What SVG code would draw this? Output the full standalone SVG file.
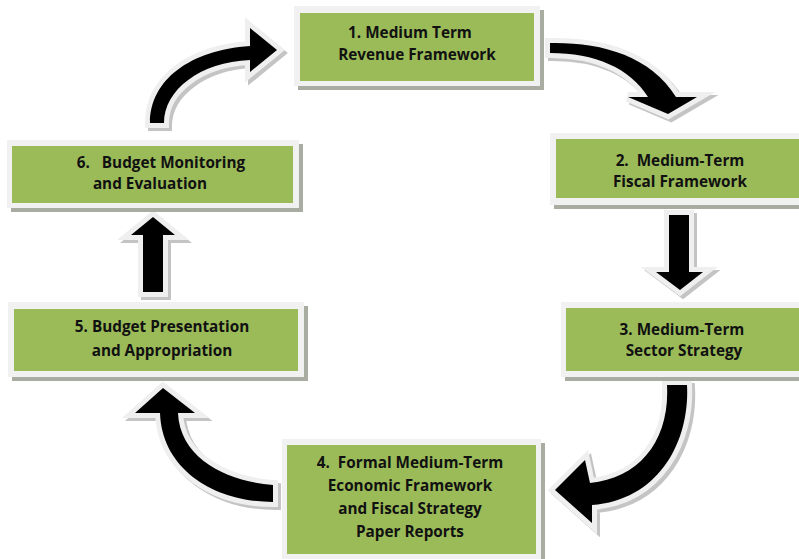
<svg xmlns="http://www.w3.org/2000/svg" xmlns:xlink="http://www.w3.org/1999/xlink" width="799" height="559" viewBox="0 0 799 559">
  <style>
    .shadow { fill: #a9ada1; }
    .frame { fill: #f1f1f1; }
    .box { fill: #9bbb59; }
    .label { font-family: "Open Sans", "Liberation Sans", sans-serif; font-weight: bold; font-size: 15.3px; fill: #111; text-anchor: middle; white-space: pre; }
    .arrow-shadow { fill: #c4c4c4; stroke: #c4c4c4; stroke-width: 10; stroke-linejoin: miter; }
    .arrow-edge { fill: #efefef; stroke: #efefef; stroke-width: 10; stroke-linejoin: miter; }
    .arrow-body { fill: #000; }
  </style>
  <defs>
    <path id="a61" d="M150,123 C150,80 190,50 250,46 L250,28 L277,50 L250,72 L250,60 C200,62 164,90 164,123 Z"/>
    <path id="a12" d="M550,43 C600,42 650,55 676,97 L697,97 L668,114 L628,97 L648,97 C630,68 595,53 550,53 Z"/>
    <path id="a23" d="M669,215 L689,215 L689,272 L703,272 L680,290 L656,272 L669,272 Z"/>
    <path id="a34" d="M667,385 L687,385 C690,440 660,500 592,505 L592,523 L555,490 L585,460 L590,483 C640,478 670,440 667,385 Z"/>
    <path id="a45" d="M273,485 C230,482 180,460 178,413 L195,413 L163,388 L135,413 L160,413 C162,470 215,502 273,502 Z"/>
    <path id="a56" d="M143,292 L163,292 L163,235 L175,235 L153,217 L131,235 L143,235 Z"/>
  </defs>

  <rect width="799" height="559" fill="#fff"/>

  <!-- connectors: block arrows with light rim and soft drop shadow -->
  <g id="connectors">
    <g transform="translate(3,3)">
      <use xlink:href="#a61" class="arrow-shadow"/>
      <use xlink:href="#a12" class="arrow-shadow"/>
      <use xlink:href="#a23" class="arrow-shadow"/>
      <use xlink:href="#a34" class="arrow-shadow"/>
      <use xlink:href="#a45" class="arrow-shadow"/>
      <use xlink:href="#a56" class="arrow-shadow"/>
    </g>
    <use xlink:href="#a61" class="arrow-edge"/>
    <use xlink:href="#a12" class="arrow-edge"/>
    <use xlink:href="#a23" class="arrow-edge"/>
    <use xlink:href="#a34" class="arrow-edge"/>
    <use xlink:href="#a45" class="arrow-edge"/>
    <use xlink:href="#a56" class="arrow-edge"/>
    <use xlink:href="#a61" class="arrow-body"/>
    <use xlink:href="#a12" class="arrow-body"/>
    <use xlink:href="#a23" class="arrow-body"/>
    <use xlink:href="#a34" class="arrow-body"/>
    <use xlink:href="#a45" class="arrow-body"/>
    <use xlink:href="#a56" class="arrow-body"/>
  </g>

  <g id="node1">
    <rect class="shadow" x="298" y="10" width="246" height="80"/>
    <rect class="frame" x="294" y="6" width="246" height="80"/>
    <rect class="box" x="300" y="13" width="234" height="68"/>
    <text class="label" x="410" y="38">1. Medium Term</text>
    <text class="label" x="417" y="60">Revenue Framework</text>
  </g>

  <g id="node2">
    <rect class="shadow" x="554" y="137" width="249" height="72"/>
    <rect class="frame" x="550" y="133" width="249" height="72"/>
    <rect class="box" x="556" y="139" width="243" height="59"/>
    <text class="label" x="680" y="166">2.  Medium-Term</text>
    <text class="label" x="680" y="187">Fiscal Framework</text>
  </g>

  <g id="node3">
    <rect class="shadow" x="565" y="306" width="238" height="75"/>
    <rect class="frame" x="561" y="302" width="238" height="75"/>
    <rect class="box" x="566" y="308" width="233" height="63"/>
    <text class="label" x="682" y="335">3. Medium-Term</text>
    <text class="label" x="684" y="356">Sector Strategy</text>
  </g>

  <g id="node4">
    <rect class="shadow" x="286" y="443" width="259" height="120"/>
    <rect class="frame" x="282" y="439" width="259" height="120"/>
    <rect class="box" x="287" y="445" width="249" height="109"/>
    <text class="label" x="410" y="468">4.  Formal Medium-Term</text>
    <text class="label" x="410" y="491">Economic Framework</text>
    <text class="label" x="410" y="514">and Fiscal Strategy</text>
    <text class="label" x="410" y="537">Paper Reports</text>
  </g>

  <g id="node5">
    <rect class="shadow" x="12" y="306" width="296" height="75"/>
    <rect class="frame" x="8" y="302" width="296" height="75"/>
    <rect class="box" x="14" y="309" width="284" height="62"/>
    <text class="label" x="162" y="332">5. Budget Presentation</text>
    <text class="label" x="162" y="356">and Appropriation</text>
  </g>

  <g id="node6">
    <rect class="shadow" x="11" y="144" width="292" height="68"/>
    <rect class="frame" x="7" y="140" width="292" height="68"/>
    <rect class="box" x="12" y="146" width="281" height="57"/>
    <text class="label" x="161" y="168">6.   Budget Monitoring</text>
    <text class="label" x="150" y="189">and Evaluation</text>
  </g>
</svg>
